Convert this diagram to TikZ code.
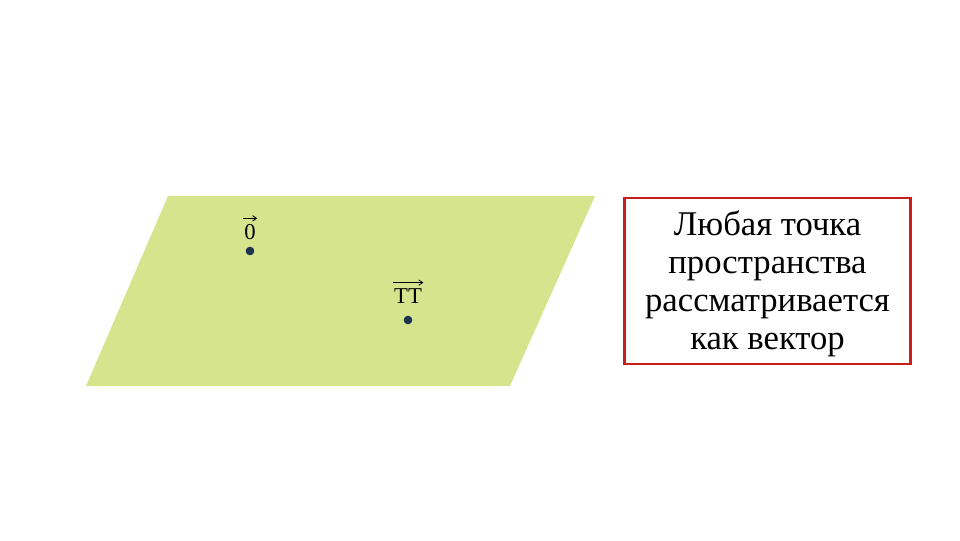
\documentclass[tikz,border=0pt]{standalone}
\usepackage{fontspec}
\setmainfont{Liberation Serif}
\usetikzlibrary{arrows.meta}
\begin{document}
\begin{tikzpicture}[x=0.75pt,y=-0.75pt,
  plane/.style={fill=planegreen,draw=none},
  pt/.style={circle,fill=dotblue,inner sep=0pt,minimum size=6.5pt},
  lbl/.style={font=\fontsize{17}{20}\selectfont,inner sep=0pt},
  vecarrow/.style={-{Straight Barb[length=3pt,width=4pt]},line width=0.6pt},
  notebox/.style={draw=boxred,line width=2pt,fill=white,minimum width=214.5pt,minimum height=124.5pt,align=center,font=\fontsize{26}{28.5}\selectfont}]
\definecolor{planegreen}{RGB}{214,228,142}
\definecolor{dotblue}{RGB}{30,50,80}
\definecolor{boxred}{RGB}{200,30,30}
\useasboundingbox (0,0) rectangle (960,540);
\coordinate (p1) at (168,196);
\coordinate (p2) at (595,196);
\coordinate (p3) at (510,386);
\coordinate (p4) at (86,386);
\path[plane] (p1) -- (p2) -- (p3) -- (p4) -- cycle;
\node[pt] (o) at (250,251) {};
\node[pt] (t) at (408,320) {};
\node[lbl,anchor=base] (ol) at (250,239) {0};
\node[lbl,anchor=base] (tl) at (408,303) {TT};
\draw[vecarrow] ([xshift=-0.5pt,yshift=4pt]ol.north west) -- ([xshift=1pt,yshift=4pt]ol.north east);
\draw[vecarrow] ([xshift=-0.5pt,yshift=4pt]tl.north west) -- ([xshift=1pt,yshift=4pt]tl.north east);
\node[notebox] (box) at (767.5,281) {};
\node[align=center,font=\fontsize{26}{28.5}\selectfont] (txt) at (767.5,284) {Любая точка\\пространства\\рассматривается\\как вектор};
\end{tikzpicture}
\end{document}
